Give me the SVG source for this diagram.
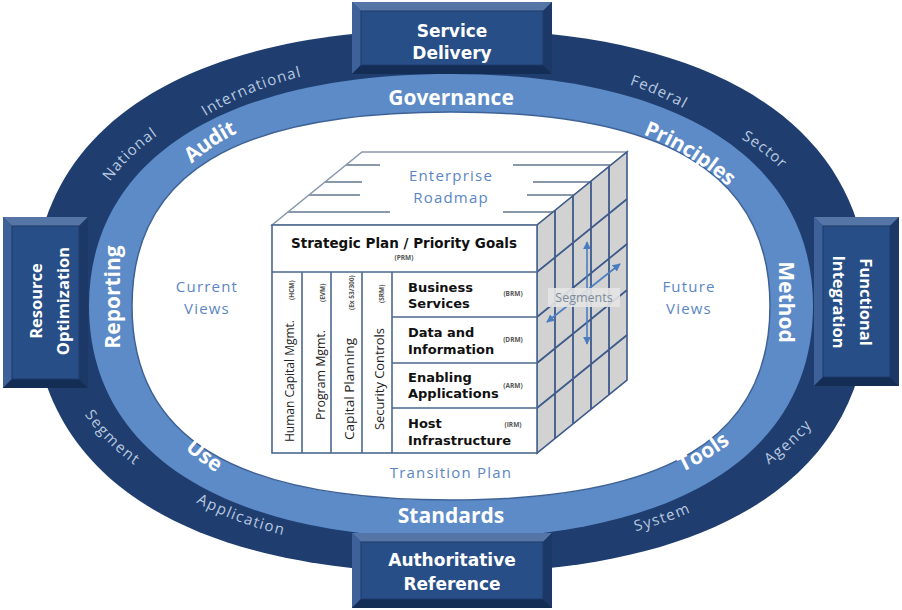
<svg xmlns="http://www.w3.org/2000/svg" width="902" height="610" viewBox="0 0 902 610">
<defs>
<style>
.outer{fill:#1f3e6f}
.mid{fill:#5c8bc8}
.inner{fill:#ffffff;stroke:#3f6296;stroke-width:1.5}
.dk{font-family:"Open Sans","Liberation Sans",sans-serif;font-size:15px;fill:#b9c9e0;letter-spacing:1.3px;text-anchor:middle;dominant-baseline:central}
.lt{font-family:"Open Sans","Liberation Sans",sans-serif;font-weight:bold;font-size:21px;fill:#ffffff;text-anchor:middle;dominant-baseline:central}
.bx{font-family:"DejaVu Sans","Liberation Sans",sans-serif;font-weight:bold;font-size:17px;fill:#ffffff;text-anchor:middle}
.bxv{font-family:"Open Sans","Liberation Sans",sans-serif;font-weight:bold;font-size:16.5px;fill:#ffffff;text-anchor:middle;dominant-baseline:central}
.inl{font-family:"Open Sans","Liberation Sans",sans-serif;font-size:15px;fill:#5a86c3;letter-spacing:1.2px;text-anchor:middle}
.cb{font-family:"DejaVu Sans","Liberation Sans",sans-serif;font-weight:bold;font-size:13px;fill:#111111}
.cs{font-family:"DejaVu Sans","Liberation Sans",sans-serif;font-weight:bold;font-size:13.5px;fill:#111111}
.cv{font-family:"Open Sans","Liberation Sans",sans-serif;font-size:13px;fill:#222222}
.sm{font-family:"Open Sans","Liberation Sans",sans-serif;font-weight:bold;font-size:6.5px;fill:#555555}
.bvT{fill:#5475a6}.bvL{fill:#3d6198}.bvB{fill:#142d55}.bvR{fill:#1c3867}
.face{fill:#284e87;stroke:#1d3a68;stroke-width:1}
.fr{fill:#ffffff;stroke:#4d6890;stroke-width:1.6}
.ln{stroke:#4d6890;stroke-width:1.6;fill:none}
.top{fill:#ffffff;stroke:#8a98ac;stroke-width:1.5}
.tl{stroke:#8a98ac;stroke-width:2;fill:none}
.side{fill:#d2d2d2;stroke:#3d5a8a;stroke-width:1.6}
.sg{stroke:#3d5a8a;stroke-width:1.8;fill:none}
.arr{stroke:#4a7dc0;stroke-width:1.6;fill:none;marker-start:url(#ah);marker-end:url(#ah)}
</style>
<marker id="ah" viewBox="0 0 10 10" refX="9" refY="5" markerWidth="5" markerHeight="5" orient="auto-start-reverse">
<path d="M0,0 L10,5 L0,10 Z" fill="#4a7dc0"/>
</marker>
<path id="p-intl" d="M188,120.3 Q247.3,80.5 317.4,66.7"/>
<path id="p-nat" d="M96.2,191 Q123.8,147.7 168.2,121.6"/>
<path id="p-fed" d="M617.7,74.4 Q661.2,87.3 699.9,111"/>
<path id="p-sec" d="M731.6,127.1 Q768.4,144.8 795.6,175.3"/>
<path id="p-seg" d="M83.7,402.7 Q108.5,441.5 147.3,466.3"/>
<path id="p-app" d="M186.6,490.3 Q239.3,520.7 299,532.3"/>
<path id="p-sys" d="M618.4,528.9 Q663,519.8 703.6,499.5"/>
<path id="p-agy" d="M751.3,468.4 Q791.3,445.7 818.1,408.2"/>
<path id="p-aud" d="M178,165.7 Q206.8,136.7 244.4,120.9"/>
<path id="p-pri" d="M632.9,122.1 Q695.7,144 743.7,189.9"/>
<path id="p-use" d="M182.2,435.3 Q203.8,456.6 230.2,471.5"/>
<path id="p-too" d="M667.2,470 Q704.5,454.6 735.8,428.8"/>
</defs>

<g id="ring">
<path class="outer" d="M869,301 C869,475.1 718.5,573 451,573 C183.5,573 33,475.1 33,301 C33,126.9 183.5,29 451,29 C718.5,29 869,126.9 869,301Z"/>
<path class="mid" d="M813,306 C813,452.2 679.1,538 451,538 C222.9,538 89,452.2 89,306 C89,159.8 222.9,74 451,74 C679.1,74 813,159.8 813,306Z"/>
<path class="inner" d="M770,306 C770,437.9 667.9,500 451,500 C234.1,500 132,437.9 132,306 C132,174.1 234.1,112 451,112 C667.9,112 770,174.1 770,306Z"/>
</g>

<g id="outer-labels">
<text class="dk"><textPath href="#p-intl" startOffset="50%">International</textPath></text>
<text class="dk"><textPath href="#p-nat" startOffset="50%">National</textPath></text>
<text class="dk"><textPath href="#p-fed" startOffset="50%">Federal</textPath></text>
<text class="dk"><textPath href="#p-sec" startOffset="50%">Sector</textPath></text>
<text class="dk"><textPath href="#p-seg" startOffset="50%">Segment</textPath></text>
<text class="dk"><textPath href="#p-app" startOffset="50%">Application</textPath></text>
<text class="dk"><textPath href="#p-sys" startOffset="50%">System</textPath></text>
<text class="dk"><textPath href="#p-agy" startOffset="50%">Agency</textPath></text>
</g>

<g id="band-labels">
<text class="lt" x="451" y="97">Governance</text>
<text class="lt" x="451" y="515">Standards</text>
<text class="lt"><textPath href="#p-aud" startOffset="50%">Audit</textPath></text>
<text class="lt"><textPath href="#p-pri" startOffset="50%">Principles</textPath></text>
<text class="lt"><textPath href="#p-use" startOffset="50%">Use</textPath></text>
<text class="lt"><textPath href="#p-too" startOffset="50%">Tools</textPath></text>
<text class="lt" transform="translate(112,297) rotate(-90)">Reporting</text>
<text class="lt" transform="translate(787,302) rotate(90)">Method</text>
</g>

<g id="inner-labels">
<text class="inl" x="207" y="292">Current</text>
<text class="inl" x="207" y="314">Views</text>
<text class="inl" x="689" y="292">Future</text>
<text class="inl" x="689" y="314">Views</text>
<text class="inl" x="451" y="478">Transition Plan</text>
</g>

<g id="box-service-delivery">
<rect x="352" y="2" width="200" height="72" fill="#1d3a68"/>
<polygon class="bvT" points="352,2 552,2 543,11 361,11"/>
<polygon class="bvL" points="352,2 361,11 361,65 352,74"/>
<polygon class="bvB" points="352,74 361,65 543,65 552,74"/>
<polygon class="bvR" points="552,2 552,74 543,65 543,11"/>
<rect class="face" x="361" y="11" width="182" height="54"/>
<text class="bx" x="452" y="37">Service</text>
<text class="bx" x="452" y="59">Delivery</text>
</g>

<g id="box-authoritative-reference">
<rect x="352" y="533" width="200" height="75" fill="#1d3a68"/>
<polygon class="bvT" points="352,533 552,533 543,542 361,542"/>
<polygon class="bvL" points="352,533 361,542 361,599 352,608"/>
<polygon class="bvB" points="352,608 361,599 543,599 552,608"/>
<polygon class="bvR" points="552,533 552,608 543,599 543,542"/>
<rect class="face" x="361" y="542" width="182" height="57"/>
<text class="bx" x="452" y="566">Authoritative</text>
<text class="bx" x="452" y="590">Reference</text>
</g>

<g id="box-resource-optimization">
<rect x="3" y="217" width="85" height="171" fill="#1d3a68"/>
<polygon class="bvT" points="3,217 88,217 79,226 12,226"/>
<polygon class="bvL" points="3,217 12,226 12,379 3,388"/>
<polygon class="bvB" points="3,388 12,379 79,379 88,388"/>
<polygon class="bvR" points="88,217 88,388 79,379 79,226"/>
<rect class="face" x="12" y="226" width="67" height="153"/>
<text class="bxv" transform="translate(35,301) rotate(-90)">Resource</text>
<text class="bxv" transform="translate(62,301) rotate(-90)">Optimization</text>
</g>

<g id="box-functional-integration">
<rect x="814" y="217" width="85" height="169" fill="#1d3a68"/>
<polygon class="bvT" points="814,217 899,217 890,226 823,226"/>
<polygon class="bvL" points="814,217 823,226 823,377 814,386"/>
<polygon class="bvB" points="814,386 823,377 890,377 899,386"/>
<polygon class="bvR" points="899,217 899,386 890,377 890,226"/>
<rect class="face" x="823" y="226" width="67" height="151"/>
<text class="bxv" transform="translate(866,302) rotate(90)">Functional</text>
<text class="bxv" transform="translate(839,302) rotate(90)">Integration</text>
</g>

<g id="cube">
<polygon class="top" points="272,225 537,225 627,152 362,152"/>
<path class="tl" d="M346,165 H380 M325,182 H362 M309,195 H360 M288,212 H390 M513,165 H610 M533,182 H590 M527,195 H574 M503,212 H553"/>
<text class="inl" x="451" y="181">Enterprise</text>
<text class="inl" x="451" y="203">Roadmap</text>
<polygon class="side" points="537,225 627,152 627,380 537,453"/>
<path class="sg" d="M555,210.4 V438.4 M573,195.8 V423.8 M591,181.2 V409.2 M609,166.6 V394.6 M537,272 L627,199 M537,317 L627,244 M537,363 L627,290 M537,408 L627,335"/>
<rect class="fr" x="272" y="225" width="265" height="228"/>
<path class="ln" d="M272,272 H537 M302,272 V453 M331,272 V453 M362,272 V453 M392,272 V453 M392,317 H537 M392,363 H537 M392,408 H537"/>
<text class="cs" x="404" y="248" text-anchor="middle">Strategic Plan / Priority Goals</text>
<text class="sm" x="404" y="260" text-anchor="middle">(PRM)</text>
<text class="cv" transform="translate(294,442) rotate(-90)" textLength="122" lengthAdjust="spacingAndGlyphs">Human Capital Mgmt.</text>
<text class="sm" transform="translate(294,300) rotate(-90)">(HCM)</text>
<text class="cv" transform="translate(325,420) rotate(-90)" textLength="90" lengthAdjust="spacingAndGlyphs">Program Mgmt.</text>
<text class="sm" transform="translate(325,302) rotate(-90)">(EVM)</text>
<text class="cv" transform="translate(354,440) rotate(-90)" textLength="102" lengthAdjust="spacingAndGlyphs">Capital Planning</text>
<text class="sm" transform="translate(354,310) rotate(-90)">(Ex 53/300)</text>
<text class="cv" transform="translate(384,430) rotate(-90)" textLength="102" lengthAdjust="spacingAndGlyphs">Security Controls</text>
<text class="sm" transform="translate(384,303) rotate(-90)">(SRM)</text>
<text class="cb" x="408" y="292">Business</text>
<text class="cb" x="408" y="308">Services</text>
<text class="sm" x="513" y="296" text-anchor="middle">(BRM)</text>
<text class="cb" x="408" y="337">Data and</text>
<text class="cb" x="408" y="354">Information</text>
<text class="sm" x="513" y="342" text-anchor="middle">(DRM)</text>
<text class="cb" x="408" y="382">Enabling</text>
<text class="cb" x="408" y="398">Applications</text>
<text class="sm" x="513" y="388" text-anchor="middle">(ARM)</text>
<text class="cb" x="408" y="428">Host</text>
<text class="cb" x="408" y="445">Infrastructure</text>
<text class="sm" x="513" y="427" text-anchor="middle">(IRM)</text>
</g>

<g id="connectors">
<line class="arr" x1="587" y1="242" x2="587" y2="344"/>
<line class="arr" x1="547" y1="322" x2="620" y2="264"/>
</g>

<g id="segments-label">
<rect x="548" y="288" width="72" height="19" fill="#e4e4e4" opacity="0.9"/>
<text x="584" y="302" text-anchor="middle" font-family="Open Sans, Liberation Sans, sans-serif" font-size="12.5" fill="#7d8b9b">Segments</text>
</g>
</svg>
